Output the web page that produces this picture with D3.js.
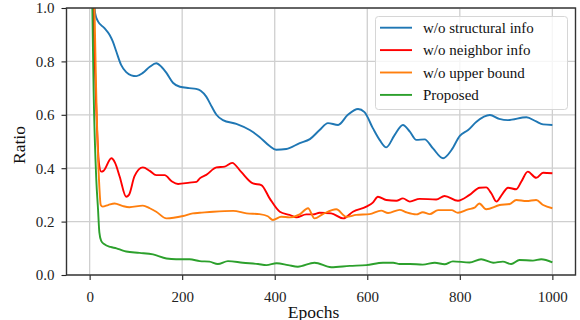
<!DOCTYPE html>
<html><head><meta charset="utf-8">
<script src="https://cdn.jsdelivr.net/npm/d3@7"></script>
<style>body{margin:0;background:#fff} svg{display:block} text{font-family:'Liberation Serif','Times New Roman',serif}</style>
</head><body><svg id="c" width="580" height="320"></svg>
<script>
// ---- data ----
const seriesNames = ["w/o structural info", "w/o neighbor info", "w/o upper bound", "Proposed"];
const seriesColors = ["#1f77b4", "#ff0000", "#ff7f0e", "#2ca02c"];

const structEpochs = [0,8,12,18,32,43,50,58,68,79,90,101,115,130,144,155,166,180,195,215,230,240,252,264,274,288,317,346,367,389,403,425,454,476,497,515,537,558,580,594,612,627,641,659,677,692,706,724,742,764,782,800,818,836,865,885,904,944,965,980,1000];
const structValues = [1.5,1.08,0.98,0.95,0.925,0.90,0.875,0.835,0.787,0.76,0.748,0.745,0.757,0.78,0.793,0.78,0.757,0.72,0.705,0.70,0.697,0.69,0.668,0.63,0.60,0.58,0.566,0.543,0.517,0.483,0.469,0.472,0.494,0.509,0.543,0.569,0.562,0.60,0.622,0.61,0.55,0.505,0.478,0.524,0.562,0.537,0.506,0.508,0.474,0.437,0.468,0.521,0.543,0.574,0.599,0.585,0.58,0.591,0.575,0.564,0.562];

const neighEpochs = [0,7.5,13,20,25,30,47,55,65,79,85,97,115,130,144,162,178,191,216,231,238,252,274,292,308,327,353,371,389,411,432,447,468,483,497,522,548,569,598,612,623,641,663,677,692,713,749,767,796,821,843,857,868,879,893,904,922,933,947,965,980,1000];
const neighValues = [1.5,1.0,0.69,0.42,0.387,0.39,0.437,0.42,0.368,0.293,0.30,0.37,0.403,0.39,0.374,0.374,0.35,0.341,0.346,0.349,0.362,0.375,0.403,0.406,0.42,0.387,0.343,0.337,0.287,0.237,0.225,0.216,0.227,0.227,0.233,0.231,0.212,0.237,0.256,0.271,0.293,0.281,0.278,0.287,0.275,0.285,0.283,0.296,0.278,0.30,0.327,0.328,0.306,0.275,0.306,0.327,0.321,0.35,0.387,0.364,0.383,0.381];

const boundEpochs = [0,10.5,14,21,24,28,40,54,72,86,115,130,144,166,202,223,238,267,310,339,367,385,396,414,432,454,472,486,504,533,555,576,605,630,645,670,684,706,720,735,753,782,796,818,832,842,857,886,908,922,944,965,980,1000];
const boundValues = [1.7,1.0,0.70,0.33,0.262,0.256,0.262,0.268,0.258,0.254,0.26,0.25,0.237,0.212,0.221,0.231,0.233,0.237,0.24,0.231,0.228,0.22,0.206,0.218,0.216,0.227,0.25,0.212,0.228,0.246,0.218,0.225,0.228,0.241,0.232,0.244,0.235,0.227,0.235,0.228,0.243,0.243,0.233,0.246,0.252,0.268,0.246,0.262,0.266,0.281,0.277,0.281,0.262,0.25];

const propEpochs = [0,5.8,8.6,14.4,18,21,25,32,45,58,72,79,108,137,166,187,216,238,259,277,299,331,364,382,404,429,450,486,522,562,598,634,656,670,692,720,746,767,785,821,846,872,893,911,929,958,976,1000];
const propValues = [1.6,1.0,0.69,0.356,0.25,0.16,0.128,0.115,0.105,0.100,0.091,0.088,0.083,0.077,0.062,0.059,0.059,0.052,0.05,0.041,0.052,0.046,0.041,0.037,0.044,0.037,0.031,0.046,0.029,0.034,0.037,0.046,0.046,0.041,0.041,0.039,0.046,0.04,0.051,0.047,0.059,0.046,0.05,0.041,0.056,0.054,0.059,0.047];

const xTicks = [0, 200, 400, 600, 800, 1000];
const yTicks = [0.0, 0.2, 0.4, 0.6, 0.8, 1.0];
const xLabel = "Epochs";
const yLabel = "Ratio";

// ---- drawing ----
const svg = d3.select("#c");
const L = 66.5, R = 575.5, T = 8, B = 275;
const x = d3.scaleLinear().domain([-50, 1050]).range([L, R]);
const y = d3.scaleLinear().domain([0, 1]).range([B, T]);
const FONT = "'Liberation Serif', 'Times New Roman', serif";

svg.append("defs").append("clipPath").attr("id", "clip")
  .append("rect").attr("x", L).attr("y", T).attr("width", R - L).attr("height", B - T);

// grid
const grid = svg.append("g").attr("stroke", "#cfcfcf").attr("stroke-width", 1.3);
grid.selectAll("line.gx").data(xTicks).join("line")
  .attr("x1", d => x(d)).attr("x2", d => x(d)).attr("y1", T).attr("y2", B);
grid.selectAll("line.gy").data(yTicks).join("line")
  .attr("y1", d => y(d)).attr("y2", d => y(d)).attr("x1", L).attr("x2", R);

// lines
const series = [
  {e: structEpochs, v: structValues},
  {e: neighEpochs, v: neighValues},
  {e: boundEpochs, v: boundValues},
  {e: propEpochs, v: propValues}
];
const line = d3.line().x(d => x(d[0])).y(d => y(d[1])).curve(d3.curveMonotoneX);
const lg = svg.append("g").attr("clip-path", "url(#clip)");
series.forEach((s, i) => {
  lg.append("path")
    .attr("d", line(s.e.map((e, j) => [e, s.v[j]])))
    .attr("fill", "none").attr("stroke", seriesColors[i])
    .attr("stroke-width", 1.9).attr("stroke-linejoin", "round");
});

// axes
const xAxis = svg.append("g").attr("transform", `translate(0,${B})`)
  .call(d3.axisBottom(x).tickValues(xTicks).tickFormat(d3.format("d")).tickSize(5).tickPadding(11));
const yAxis = svg.append("g").attr("transform", `translate(${L},0)`)
  .call(d3.axisLeft(y).tickValues(yTicks).tickFormat(d3.format(".1f")).tickSize(5).tickPadding(7));
[xAxis, yAxis].forEach(a => {
  a.attr("font-family", null).attr("font-size", null);
  a.select(".domain").remove();
  a.selectAll(".tick line").attr("stroke", "#222").attr("stroke-width", 1.1);
  a.selectAll(".tick text").style("font-family", FONT).style("font-size", "15px").attr("fill", "#222");
});

// frame
svg.append("rect").attr("x", L).attr("y", T).attr("width", R - L).attr("height", B - T)
  .attr("fill", "none").attr("stroke", "#333").attr("stroke-width", 1.4);

// axis labels
svg.append("text").attr("x", 313.5).attr("y", 317.5).attr("text-anchor", "middle")
  .style("font-size", "17.5px").attr("fill", "#111").text(xLabel);
svg.append("text").attr("transform", "translate(25,145) rotate(-90)").attr("text-anchor", "middle")
  .style("font-size", "17.5px").attr("fill", "#111").text(yLabel);

// legend
const leg = svg.append("g");
leg.append("rect").attr("x", 375.5).attr("y", 16.5).attr("width", 192).attr("height", 93).attr("rx", 3)
  .attr("fill", "#fff").attr("fill-opacity", 0.8).attr("stroke", "#d6d6d6").attr("stroke-width", 1);
seriesNames.forEach((n, i) => {
  const yy = 27.7 + i * 22.4;
  leg.append("line").attr("x1", 380).attr("x2", 412).attr("y1", yy).attr("y2", yy)
    .attr("stroke", seriesColors[i]).attr("stroke-width", 1.9);
  leg.append("text").attr("x", 423).attr("y", yy + 5)
    .style("font-size", "15px").attr("fill", "#111").text(n);
});
</script></body></html>
